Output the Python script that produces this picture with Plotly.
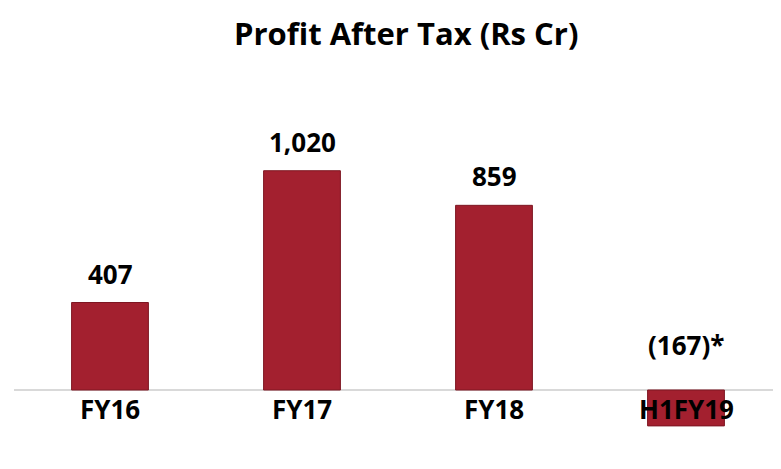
import plotly.graph_objects as go

categories = ["FY16", "FY17", "FY18", "H1FY19"]
values = [407, 1020, 859, -167]
value_labels = ["407", "1,020", "859", "(167)*"]
title_text = "Profit After Tax (Rs Cr)"

FONT = "Open Sans"
BAR = "#A3202F"

fig = go.Figure()
fig.add_trace(go.Bar(
    x=categories, y=values, width=0.4,
    marker=dict(color=BAR, line=dict(color="#7E1622", width=1)),
    hoverinfo="skip",
))

annotations = []
for c, v, lab in zip(categories, values, value_labels):
    annotations.append(dict(
        x=c, y=max(v, 0), xref="x", yref="y", text=lab, showarrow=False,
        yanchor="middle", yshift=29 if v >= 0 else 45,
        font=dict(family=FONT, size=26, color="#000000", weight="bold"),
    ))
    annotations.append(dict(
        x=c, y=0, xref="x", yref="y", text=c, showarrow=False,
        yanchor="middle", yshift=-19,
        font=dict(family=FONT, size=26, color="#000000", weight="bold"),
    ))

annotations.append(dict(
    x=(406 - 14) / 768, y=1 + (100 - 33) / 340, xref="paper", yref="paper",
    text=title_text, showarrow=False,
    font=dict(family=FONT, size=31, color="#000000", weight="bold"),
    yanchor="middle", xanchor="center",
))

fig.update_layout(
    width=781, height=469,
    margin=dict(l=6, r=7, t=92, b=37),
    paper_bgcolor="white", plot_bgcolor="white",
    showlegend=False,
    xaxis=dict(showticklabels=False, showgrid=False, zeroline=False, showline=False, ticks=""),
    yaxis=dict(range=[-232.6, 1349], showticklabels=False, showgrid=False,
               zeroline=True, zerolinecolor="#D9D9D9", zerolinewidth=2, showline=False),
    annotations=annotations,
)

fig.write_html("out.html")
